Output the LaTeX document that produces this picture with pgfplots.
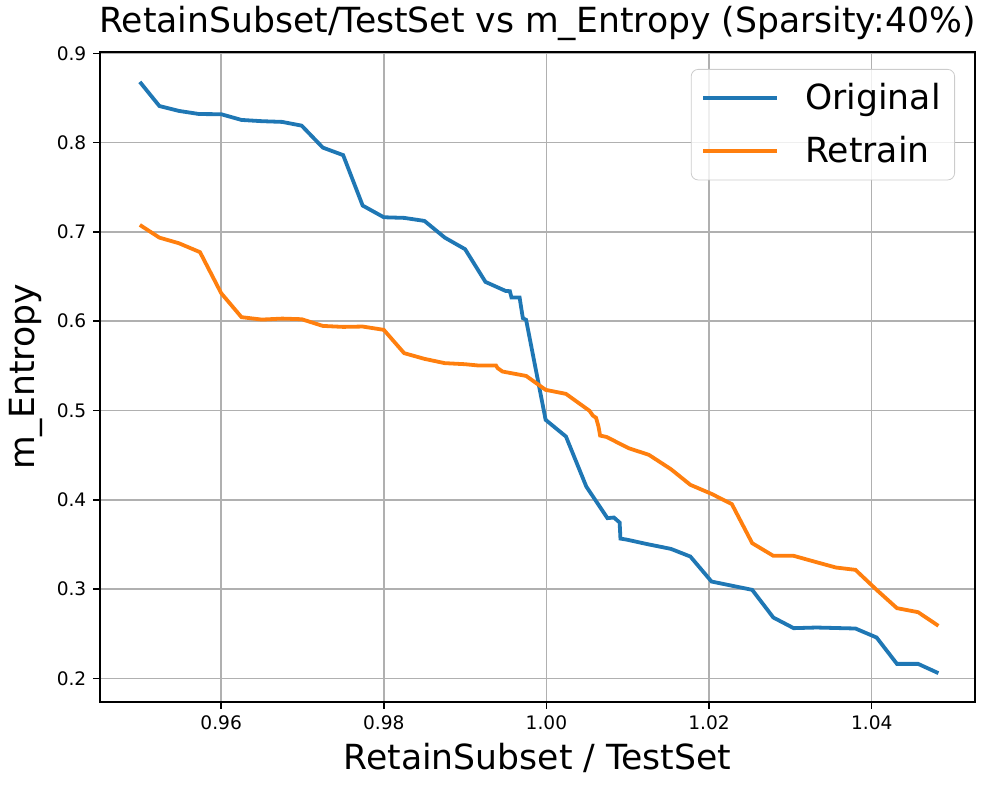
\documentclass[border=0pt]{standalone}
\usepackage{pgfplots}
\pgfplotsset{compat=1.18}
\usepackage{fontspec}
\setmainfont{DejaVu Sans}
\definecolor{mblue}{HTML}{1F77B4}
\definecolor{morange}{HTML}{FF7F0E}
\definecolor{mgrid}{HTML}{B0B0B0}
\pgfplotstableread{
x y
0.9500 0.868
0.9524 0.841
0.9548 0.8355
0.9573 0.832
0.9600 0.8318
0.9625 0.8254
0.9650 0.824
0.9675 0.8232
0.9699 0.819
0.9725 0.7944
0.9750 0.786
0.9774 0.7295
0.9800 0.7164
0.9825 0.7157
0.9850 0.7123
0.9875 0.6936
0.9900 0.6806
0.9925 0.6440
0.9950 0.6338
0.9955 0.6336
0.9957 0.6266
0.9967 0.6264
0.9970 0.6090
0.9971 0.6034
0.9975 0.6015
0.9999 0.4895
1.0024 0.4708
1.0049 0.4148
1.0075 0.3794
1.0083 0.3801
1.0090 0.3745
1.0091 0.3565
1.0099 0.3553
1.0124 0.3503
1.0153 0.3450
1.0177 0.3364
1.0203 0.3084
1.0253 0.2991
1.0279 0.2681
1.0304 0.2562
1.0332 0.2569
1.0380 0.2558
1.0406 0.2457
1.0431 0.2162
1.0457 0.2162
1.0482 0.2058
}\original
\pgfplotstableread{
x y
0.9500 0.7078
0.9524 0.6936
0.9548 0.6873
0.9574 0.6773
0.9600 0.6314
0.9625 0.6045
0.9650 0.6018
0.9675 0.6029
0.9699 0.6022
0.9725 0.5947
0.9750 0.5936
0.9774 0.5940
0.9800 0.5903
0.9825 0.5642
0.9850 0.5578
0.9875 0.5530
0.9900 0.5518
0.9917 0.5503
0.9938 0.5503
0.9940 0.5474
0.9946 0.5436
0.9975 0.5387
0.9999 0.5231
1.0024 0.5186
1.0053 0.4996
1.0057 0.4943
1.0061 0.4918
1.0064 0.4820
1.0066 0.4719
1.0074 0.4703
1.0101 0.4578
1.0126 0.4503
1.0153 0.4343
1.0177 0.4167
1.0203 0.4066
1.0228 0.3951
1.0253 0.3514
1.0279 0.3372
1.0304 0.3372
1.0332 0.3301
1.0356 0.3241
1.0380 0.3215
1.0406 0.2991
1.0431 0.2786
1.0457 0.2741
1.0482 0.2588
}\retrain
\begin{document}
\begin{tikzpicture}
\begin{axis}[
  scale only axis,
  width=437.5pt, height=325pt,
  xmin=0.9451, xmax=1.0527,
  ymin=0.1735, ymax=0.9015,
  xtick={0.96,0.98,1.00,1.02,1.04},
  ytick={0.2,0.3,0.4,0.5,0.6,0.7,0.8,0.9},
  xticklabel style={/pgf/number format/.cd,fixed,fixed zerofill,precision=2},
  yticklabel style={/pgf/number format/.cd,fixed,fixed zerofill,precision=1},
  /pgf/number format/assume math mode=true,
  ticklabel style={font=\fontsize{9.3}{11}\selectfont},
  tick align=outside,
  tick pos=left,
  major tick length=3.3pt,
  tick style={black, line width=0.75pt},
  axis line style={black, line width=0.75pt},
  grid=major,
  grid style={mgrid, line width=0.75pt},
  scaled ticks=false,
  title={RetainSubset/TestSet vs m\_Entropy (Sparsity:40\%)},
  title style={font=\fontsize{17.3}{20}\selectfont, at={(0.5,1)}, anchor=south, inner sep=0pt, yshift=-0.5pt},
  xlabel={RetainSubset / TestSet},
  ylabel={m\_Entropy},
  xlabel style={font=\fontsize{17.3}{20}\selectfont},
  ylabel style={font=\fontsize{17.3}{20}\selectfont},
  legend style={at={(1,1)}, anchor=north east, xshift=-10pt, yshift=-8.5pt,
    draw=black!20, fill=white, fill opacity=0.8, text opacity=1,
    rounded corners=3.5pt, font=\fontsize{17.3}{20}\selectfont,
    inner xsep=5pt, inner ysep=5pt, row sep=8pt, column sep=11pt},
  legend cell align=left,
  legend image code/.code={\draw[#1, line width=2pt] (0pt,0pt) -- (37pt,0pt);},
]
\addplot[mblue, line width=1.9pt] table[x=x,y=y] {\original};
\addlegendentry{Original}
\addplot[morange, line width=1.9pt] table[x=x,y=y] {\retrain};
\addlegendentry{Retrain}
\coordinate (sw) at (rel axis cs:0,0);
\coordinate (ne) at (rel axis cs:1,1);
\end{axis}
\pgfresetboundingbox
\useasboundingbox ([xshift=-50pt,yshift=-44.5pt]sw) rectangle ([xshift=11pt,yshift=26pt]ne);
\end{tikzpicture}
\end{document}
